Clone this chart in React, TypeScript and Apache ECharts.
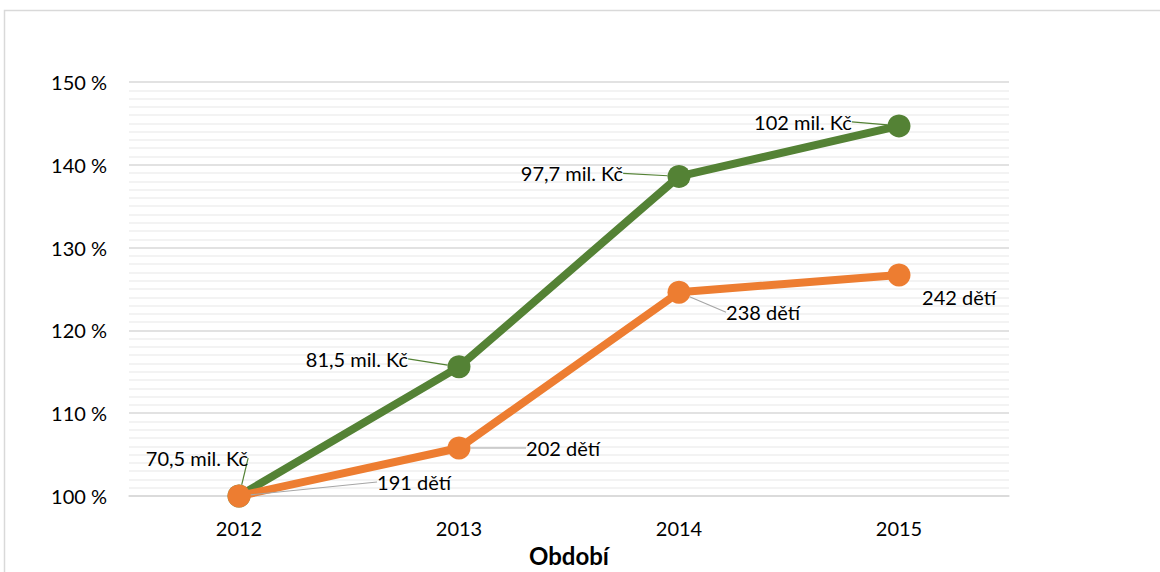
import React, { useEffect, useRef } from "react";
import * as echarts from "echarts";

const categories = ["2012", "2013", "2014", "2015"];
const fundingPct = [100, 115.6, 138.6, 144.7];
const fundingLabels = ["70,5 mil. Kč", "81,5 mil. Kč", "97,7 mil. Kč", "102 mil. Kč"];
const childrenPct = [100, 105.8, 124.6, 126.7];
const childrenLabels = ["191 dětí", "202 dětí", "238 dětí", "242 dětí"];
const yTicks = [100, 110, 120, 130, 140, 150];

// label center offsets relative to each point (layout only)
const fundingOffsets = [[-42, -38], [-102, -8], [-107, -3], [-96, -4]];
const childrenOffsets = [[175, -14], [104, 0], [84, 20], [60, 22]];

const FONT = "Lato, 'Open Sans', sans-serif";
const GREEN = "#548235";
const ORANGE = "#ED7D31";

function layoutFn(offsets: number[][]) {
  return (params: any) => {
    const i = params.dataIndex;
    const r = params.rect;
    const [dx, dy] = offsets[i];
    return {
      x: r.x + r.width / 2 + dx,
      y: r.y + r.height / 2 + dy,
      align: "center",
      verticalAlign: "middle",
    };
  };
}

export default function App() {
  const ref = useRef<HTMLDivElement>(null);
  useEffect(() => {
    document.body.style.margin = "0";
    const chart = echarts.init(ref.current!, null, { renderer: "svg" });
    chart.setOption({
      animation: false,
      backgroundColor: "#ffffff",
      graphic: [
        {
          type: "rect",
          shape: { x: 4.5, y: 10.5, width: 1300, height: 700 },
          style: { fill: "none", stroke: "#d9d9d9", lineWidth: 1.5 },
          silent: true,
        },
      ],
      grid: { left: 129, right: 151, top: 82, bottom: 76, outerBoundsMode: "none", containLabel: false },
      xAxis: {
        type: "category",
        data: categories,
        boundaryGap: true,
        name: "Období",
        nameLocation: "middle",
        nameGap: 47,
        nameTextStyle: { fontFamily: FONT, fontWeight: "bold", fontSize: 24, color: "#000" },
        axisLine: { show: true, lineStyle: { color: "#d9d9d9", width: 1.5 } },
        axisTick: { show: false },
        axisLabel: { fontFamily: FONT, fontSize: 20, color: "#000", margin: 22 },
      },
      yAxis: {
        type: "value",
        min: yTicks[0],
        max: yTicks[yTicks.length - 1],
        interval: 10,
        axisLine: { show: false },
        axisTick: { show: false },
        axisLabel: { fontFamily: FONT, fontSize: 20, color: "#000", margin: 22, formatter: "{value} %" },
        splitLine: { show: true, lineStyle: { color: "#d9d9d9", width: 1.5 } },
        minorTick: { show: false, splitNumber: 10 },
        minorSplitLine: { show: true, lineStyle: { color: "#efefef", width: 1.5 } },
      },
      series: [
        {
          type: "line",
          name: "Kč",
          data: fundingPct.map((v) => ({ value: v })),
          symbol: "circle",
          symbolSize: 23,
          lineStyle: { color: GREEN, width: 8 },
          itemStyle: { color: GREEN },
          z: 2,
          label: {
            show: true,
            fontFamily: FONT,
            fontSize: 20,
            color: "#000",
            formatter: (p: any) => fundingLabels[p.dataIndex],
          },
          labelLine: { show: true, lineStyle: { color: GREEN, width: 1.2 } },
          labelLayout: layoutFn(fundingOffsets),
        },
        {
          type: "line",
          name: "děti",
          data: childrenPct.map((v, i) =>
            i === 3 ? { value: v, labelLine: { show: false } } : { value: v }
          ),
          symbol: "circle",
          symbolSize: 23,
          lineStyle: { color: ORANGE, width: 8 },
          itemStyle: { color: ORANGE },
          z: 3,
          label: {
            show: true,
            fontFamily: FONT,
            fontSize: 20,
            color: "#000",
            formatter: (p: any) => childrenLabels[p.dataIndex],
          },
          labelLine: { show: true, lineStyle: { color: "#a6a6a6", width: 1.2 } },
          labelLayout: layoutFn(childrenOffsets),
        },
      ],
    });
    return () => chart.dispose();
  }, []);
  return <div ref={ref} style={{ width: 1160, height: 572 }} />;
}
